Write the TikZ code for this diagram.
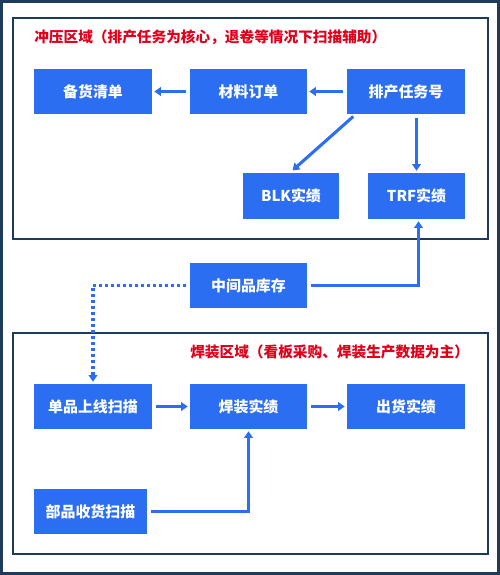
\documentclass[tikz,border=0pt]{standalone}
\usepackage{fontspec}
\usepackage{tikz}
\usetikzlibrary{arrows.meta}
\newfontfamily\cjk{Noto Sans CJK SC}
\definecolor{boxblue}{HTML}{2B6EF2}
\definecolor{framenavy}{HTML}{1F3B5C}
\definecolor{titlered}{HTML}{E0001B}
\tikzset{
  blk/.style={fill=boxblue, text=white, inner sep=0pt, minimum height=33.75pt, font=\cjk\bfseries\fontsize{11.2pt}{13pt}\selectfont},
  arr/.style={draw=boxblue, line width=2.3pt, -{Triangle[width=6.5pt,length=5pt]}, shorten <=2.5pt, shorten >=1.5pt},
  frame/.style={draw=framenavy, line width=1.6pt},
  title/.style={anchor=west, inner sep=0pt, text=titlered, font=\cjk\bfseries\fontsize{11pt}{13pt}\selectfont}
}
\begin{document}
\begin{tikzpicture}[x=0.75pt,y=0.75pt,yscale=-1,xscale=1]
\useasboundingbox (0,0) rectangle (500,575);

%Shape: outer border
\draw [draw=framenavy, line width=2.4pt] (1.5,1.5) rectangle (498.5,573.5);
%Shape: stamping area
\draw [frame] (13,18) rectangle (488,239);
%Shape: welding area
\draw [frame] (13,333) rectangle (488,554);

% Text Node
\node [title] (stamptitle) at (34,37) {冲压区域（排产任务为核心，退卷等情况下扫描辅助）};
% Text Node
\node [title] (weldtitle) at (190,352) {焊装区域（看板采购、焊装生产数据为主）};

% Stamping nodes
\node [blk, minimum width=88.5pt] (stock) at (93,91.5) {备货清单};
\node [blk, minimum width=87.75pt] (material) at (248.5,91.5) {材料订单};
\node [blk, minimum width=88.5pt] (plan) at (406,91.5) {排产任务号};
\node [blk, minimum width=72pt, minimum height=34.5pt] (blkres) at (291,196) {BLK实绩};
\node [blk, minimum width=72.75pt, minimum height=34.5pt] (trfres) at (416.5,196) {TRF实绩};
% Middle node
\node [blk, minimum width=87.75pt] (wip) at (248.5,285.5) {中间品库存};
% Welding nodes
\node [blk, minimum width=88.5pt] (single) at (93,406.5) {单品上线扫描};
\node [blk, minimum width=87.75pt] (weldres) at (248.5,406.5) {焊装实绩};
\node [blk, minimum width=88.5pt] (ship) at (406,406.5) {出货实绩};
\node [blk, minimum width=84.75pt] (parts) at (90.5,511.5) {部品收货扫描};

% Connectors
\draw [arr] (material) -- (stock);
\draw [arr] (plan) -- (material);
\draw [arr] ([xshift=6.75pt]plan.south west) -- ([yshift=-0.75pt]blkres.north);
\draw [arr] (plan.south -| trfres.north) -- (trfres.north);
\draw [arr] (wip.east) -| ([xshift=1.5pt]trfres.south);
\draw [arr, dash pattern=on 2.25pt off 2.25pt] (wip.west) -| (single.north);
\draw [arr] (single) -- (weldres);
\draw [arr] (weldres) -- (ship);
\draw [arr] (parts.east) -| (weldres.south);
\end{tikzpicture}
\end{document}
